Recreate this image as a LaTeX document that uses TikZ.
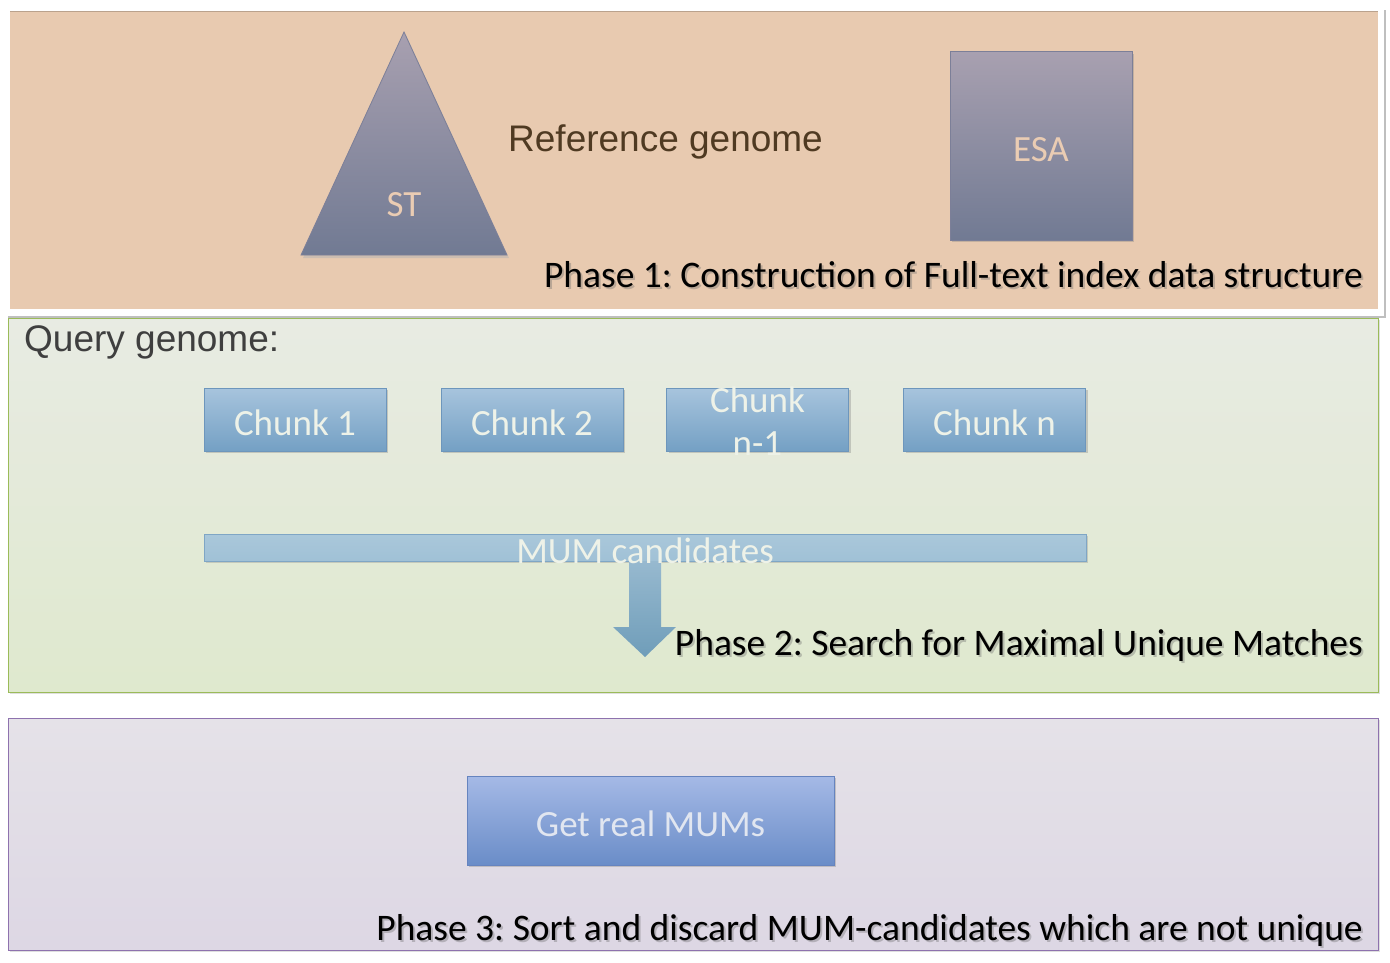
\documentclass[tikz,border=0pt]{standalone}
\usepackage{fontspec}
\setmainfont{Carlito}
\newfontfamily\arialf{Liberation Sans}
\usetikzlibrary{shadows,calc}
\frenchspacing
\definecolor{peach}{HTML}{E8CAB0}
\definecolor{peachtxt}{HTML}{EACCB3}
\definecolor{idxtop}{HTML}{A8A0B0}
\definecolor{idxbot}{HTML}{717A93}
\definecolor{idxline}{HTML}{7C7F98}
\definecolor{chtop}{HTML}{A7C4DD}
\definecolor{chbot}{HTML}{74A0C4}
\definecolor{chline}{HTML}{6D96BC}
\definecolor{chtxt}{HTML}{EEF2E8}
\definecolor{mumfill}{HTML}{A0C1D6}
\definecolor{mumline}{HTML}{7FA6C5}
\definecolor{arrtop}{HTML}{97B9CF}
\definecolor{arrbot}{HTML}{6F9DB9}
\definecolor{gtop}{HTML}{A5B9E6}
\definecolor{gbot}{HTML}{6A8DC8}
\definecolor{gline}{HTML}{6684BF}
\definecolor{gtxt}{HTML}{E1E6F0}
\definecolor{ptwotop}{HTML}{E8EBE3}
\definecolor{ptwobot}{HTML}{DFE9CE}
\definecolor{ptwoline}{HTML}{9BBB59}
\definecolor{pthreetop}{HTML}{E5E2E8}
\definecolor{pthreebot}{HTML}{DDD7E4}
\definecolor{pthreeline}{HTML}{8E72AE}
\definecolor{reftxt}{HTML}{4F3A22}
\definecolor{qrytxt}{HTML}{3F3F3F}
\tikzset{
  bigfont/.style={font=\fontsize{37}{45}\selectfont},
  phasefont/.style={font=\fontsize{37.5}{45}\selectfont},
  panel/.style={rectangle, inner sep=0pt, outer sep=0pt},
  chunkbox/.style={panel, top color=chtop, bottom color=chbot, draw=chline, line width=1pt,
     minimum width=182, minimum height=63,
     drop shadow={opacity=0.35, shadow xshift=2pt, shadow yshift=-2pt}},
  chunktxt/.style={bigfont, text=chtxt, inner sep=0pt},
  phasetxt/.style={phasefont, text=black, inner sep=0pt, anchor=base east},
  phaseshadow/.style={phasefont, text=black!60, opacity=0.35, inner sep=0pt, anchor=base east},
}
\begin{document}
\begin{tikzpicture}[x=1pt,y=-1pt]
\useasboundingbox (0,0) rectangle (1390,963);
\fill[white] (0,0) rectangle (1390,963);

% ---------- Phase 1 ----------
\fill[black!25] (8,10) rectangle (1386,318);
\fill[white] (5,6) rectangle (1384,316);
\node[panel, fill=peach, minimum width=1368, minimum height=298] (p1) at (694,160) {};
\draw[peach!80!black, line width=0.8pt] (p1.north west) -- (p1.north east);

\coordinate (stapex) at (404,32);
\coordinate (stleft) at (301,255);
\coordinate (stright) at (507,255);
\fill[black!30, opacity=0.5] ($(stapex)+(2,3)$) -- ($(stright)+(2,3)$) -- ($(stleft)+(2,3)$) -- cycle;
\shade[top color=idxtop, bottom color=idxbot, draw=idxline, line width=0.8pt]
  (stapex) -- (stright) -- (stleft) -- cycle;
\node[bigfont, text=peachtxt, inner sep=0pt, anchor=base] (st) at (404,216) {ST};

\node[panel, top color=idxtop, bottom color=idxbot, draw=idxline, line width=1pt,
      minimum width=182, minimum height=188,
      drop shadow={opacity=0.35, shadow xshift=2pt, shadow yshift=-2pt}] (esa) at (1041,146) {};
\node[bigfont, text=peachtxt, inner sep=0pt, anchor=base] (esatxt) at (1041,162) {ESA};

\node[font=\arialf\fontsize{37}{45}\selectfont, text=reftxt, inner sep=0pt, anchor=base west] (ref) at (508,152) {Reference genome};

\node[phaseshadow] (p1sh) at (1365,289) {Phase 1: Construction of Full-text index data structure};
\node[phasetxt] (p1txt) at (1363,287) {Phase 1: Construction of Full-text index data structure};

% ---------- Phase 2 ----------
\node[panel, top color=ptwotop, bottom color=ptwobot, draw=ptwoline, line width=1pt,
      minimum width=1370, minimum height=374,
      drop shadow={opacity=0.25, shadow xshift=2pt, shadow yshift=-2pt}] (p2) at (693,505) {};

\node[font=\arialf\fontsize{37}{45}\selectfont, text=qrytxt, inner sep=0pt, anchor=base west] (qry) at (24,351) {Query genome:};

\node[chunkbox] (c1) at (295,419.5) {};
\node[chunkbox] (c2) at (532,419.5) {};
\node[chunkbox] (c3) at (757.5,419.5) {};
\node[chunkbox] (c4) at (994.5,419.5) {};
\node[chunktxt, anchor=base] (c1t) at (295,435) {Chunk 1};
\node[chunktxt, anchor=base] (c2t) at (532,435) {Chunk 2};
\node[chunktxt, anchor=base] (c3ta) at (757.5,412) {Chunk};
\node[chunktxt, anchor=base] (c3tb) at (757.5,455) {n-1};
\node[chunktxt, anchor=base] (c4t) at (994.5,435) {Chunk n};

\node[panel, top color=mumfill!90!white, bottom color=mumfill, draw=mumline, line width=1pt,
      minimum width=882, minimum height=27,
      drop shadow={opacity=0.3, shadow xshift=2pt, shadow yshift=-2pt}] (mum) at (645,547.5) {};

% block arrow down from MUM bar
\coordinate (tip) at (645,657);
\shade[top color=arrtop, bottom color=arrbot]
  ($(mum.south)+(-16,0)$) -- ($(mum.south)+(16,0)$) -- ($(mum.south)+(16,66)$)
  -- ($(tip)+(31,-30)$) -- (tip) -- ($(tip)+(-32,-30)$) -- ($(mum.south)+(-16,66)$) -- cycle;

\node[chunktxt, anchor=base] (mumt) at (645,563) {MUM candidates};

\node[phaseshadow] (p2sh) at (1365,657) {Phase 2: Search for Maximal Unique Matches};
\node[phasetxt] (p2txt) at (1363,655) {Phase 2: Search for Maximal Unique Matches};

% ---------- Phase 3 ----------
\node[panel, top color=pthreetop, bottom color=pthreebot, draw=pthreeline, line width=1pt,
      minimum width=1370, minimum height=232,
      drop shadow={opacity=0.25, shadow xshift=2pt, shadow yshift=-2pt}] (p3) at (693,834) {};

\node[panel, top color=gtop, bottom color=gbot, draw=gline, line width=1pt,
      minimum width=367, minimum height=89,
      drop shadow={opacity=0.35, shadow xshift=2pt, shadow yshift=-2pt}] (real) at (650.5,820.5) {};
\node[bigfont, text=gtxt, inner sep=0pt, anchor=base] (realt) at (650.5,836) {Get real MUMs};

\node[phaseshadow] (p3sh) at (1365,942) {Phase 3: Sort and discard MUM-candidates which are not unique};
\node[phasetxt] (p3txt) at (1363,940) {Phase 3: Sort and discard MUM-candidates which are not unique};
\end{tikzpicture}
\end{document}
